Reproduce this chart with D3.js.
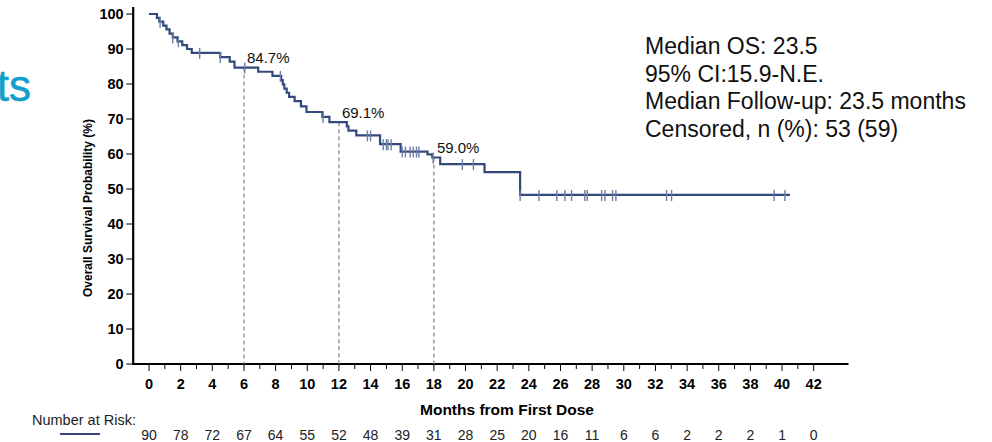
<!DOCTYPE html>
<html><head><meta charset="utf-8">
<script src="https://cdn.jsdelivr.net/npm/d3@7"></script>
<style>body{margin:0;background:#fff}svg{display:block}text{font-family:"Liberation Sans",Arial,sans-serif}</style>
</head><body><svg id="c" width="992" height="442"></svg>
<script>
// ---- data ----
const stepTimes = [0,0.5,0.65,0.9,1.1,1.3,1.5,1.8,2.1,2.4,2.7,4.5,5.1,5.4,6.9,7.8,8.35,8.45,8.55,8.7,8.85,9.2,9.6,9.95,10.95,11.4,12.5,12.6,13.1,14.6,15.9,17.6,17.9,18.4,21.2,23.45];
const stepSurv  = [100,98.9,97.8,96.7,95.6,94.4,93.3,92.2,91.1,90.0,88.9,87.7,86.4,84.7,83.5,82.3,81.1,79.9,78.7,77.5,76.3,75.1,73.6,72.0,70.6,69.1,67.9,66.7,65.3,62.8,60.7,59.9,59.0,57.1,54.8,48.3];
const lastTime = 40.5;
const censorTimes = [0.7,1.5,1.85,3.2,4.5,6.05,8.3,11.0,13.8,14.0,14.8,15.0,15.1,15.3,16.0,16.2,16.5,16.7,16.9,17.05,17.95,19.8,20.5,23.45,24.64,25.77,26.28,26.7,27.54,27.69,28.6,28.81,29.29,29.5,32.7,33.02,39.5,40.18];
const landmarkTimes = [6,12,18];
const landmarkLabels = ["84.7%","69.1%","59.0%"];
const xTicks = d3.range(0,43,2);
const xMinorTicks = d3.range(1,43,2);
const yTicks = d3.range(0,101,10);
const atRisk = [90,78,72,67,64,55,52,48,39,31,28,25,20,16,11,6,6,2,2,2,1,0];
const statsLines = ["Median OS: 23.5","95% CI:15.9-N.E.","Median Follow-up: 23.5 months","Censored, n (%): 53 (59)"];

// ---- chart ----
const svg = d3.select("#c");
const navy = "#34497b";
const x = d3.scaleLinear().domain([-1,44.2]).range([133.2,848.5]);
const y = d3.scaleLinear().domain([0,100]).range([364,14]);

function survAt(t){
  let s = stepSurv[0];
  for(let i=0;i<stepTimes.length;i++){ if(stepTimes[i] <= t) s = stepSurv[i]; }
  return s;
}

// left clipped title text
svg.append("text").attr("x",31).attr("y",101).attr("text-anchor","end")
  .attr("font-size",44).attr("fill","#139fcb").attr("stroke","#139fcb").attr("stroke-width",0.6).text("ts");

// axes lines
svg.append("line").attr("x1",x(-1)).attr("x2",x(-1)).attr("y1",y(102)).attr("y2",y(0)+1)
  .attr("stroke","#000").attr("stroke-width",2.2);
svg.append("line").attr("x1",x(-1)).attr("x2",x(44.2)).attr("y1",y(0)).attr("y2",y(0))
  .attr("stroke","#000").attr("stroke-width",2.2);

// y ticks
const yg = svg.append("g");
yg.selectAll("line").data(yTicks).join("line")
  .attr("x1",x(-1)-7).attr("x2",x(-1)).attr("y1",d=>y(d)).attr("y2",d=>y(d))
  .attr("stroke","#000").attr("stroke-width",1);
yg.selectAll("text").data(yTicks).join("text")
  .attr("x",x(-1)-9.5).attr("y",d=>y(d)+5).attr("text-anchor","end")
  .attr("font-size",14.5).attr("font-weight","bold").text(d=>d);

// x ticks
const xg = svg.append("g");
xg.selectAll("line.maj").data(xTicks).join("line").attr("class","maj")
  .attr("x1",d=>x(d)).attr("x2",d=>x(d)).attr("y1",y(0)+1).attr("y2",y(0)+7)
  .attr("stroke","#000").attr("stroke-width",1);
xg.selectAll("line.min").data(xMinorTicks).join("line").attr("class","min")
  .attr("x1",d=>x(d)).attr("x2",d=>x(d)).attr("y1",y(0)+1).attr("y2",y(0)+5)
  .attr("stroke","#000").attr("stroke-width",1);
xg.selectAll("text").data(xTicks).join("text")
  .attr("x",d=>x(d)).attr("y",388.5).attr("text-anchor","middle")
  .attr("font-size",14.5).attr("font-weight","bold").text(d=>d);

// axis titles
svg.append("text").attr("x",507).attr("y",415).attr("text-anchor","middle")
  .attr("font-size",15.5).attr("font-weight","bold").text("Months from First Dose");
svg.append("text").attr("transform","translate(92,208) rotate(-90)").attr("text-anchor","middle")
  .attr("font-size",12).attr("font-weight","bold").text("Overall Survival Probability (%)");

// landmark dashed lines
svg.append("g").selectAll("line").data(landmarkTimes).join("line")
  .attr("x1",d=>x(d)).attr("x2",d=>x(d)).attr("y1",d=>y(survAt(d))).attr("y2",y(0))
  .attr("stroke","#8a8a8a").attr("stroke-width",1.3).attr("stroke-dasharray","4,3");
svg.append("g").selectAll("text").data(landmarkTimes).join("text")
  .attr("x",d=>x(d)+3).attr("y",d=>y(survAt(d))-4.5)
  .attr("font-size",15).attr("fill","#111").text((d,i)=>landmarkLabels[i]);

// KM curve
const pts = stepTimes.map((t,i)=>[t,stepSurv[i]]);
pts.push([lastTime, stepSurv[stepSurv.length-1]]);
const line = d3.line().x(d=>x(d[0])).y(d=>y(d[1])).curve(d3.curveStepAfter);
svg.append("path").attr("d",line(pts)).attr("fill","none")
  .attr("stroke",navy).attr("stroke-width",2.2);

// censor ticks
svg.append("g").selectAll("line").data(censorTimes).join("line")
  .attr("x1",d=>x(d)).attr("x2",d=>x(d)).attr("y1",d=>y(survAt(d))-5).attr("y2",d=>y(survAt(d))+6)
  .attr("stroke","#6a7ea8").attr("stroke-width",1.4);

// stats box
svg.append("g").selectAll("text").data(statsLines).join("text")
  .attr("x",645).attr("y",(d,i)=>54+i*27.7)
  .attr("font-size",23).attr("fill","#111").text(d=>d);

// number at risk
svg.append("text").attr("x",32).attr("y",425).attr("font-size",14.5).attr("fill","#222").text("Number at Risk:");
svg.append("line").attr("x1",60).attr("x2",100).attr("y1",434).attr("y2",434)
  .attr("stroke",navy).attr("stroke-width",2);
svg.append("g").selectAll("text").data(atRisk).join("text")
  .attr("x",(d,i)=>x(xTicks[i])).attr("y",440).attr("text-anchor","middle")
  .attr("font-size",14).attr("fill","#222").text(d=>d);
</script></body></html>
